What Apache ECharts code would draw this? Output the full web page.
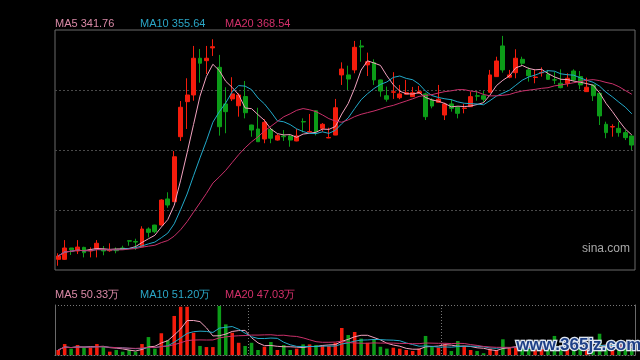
<!DOCTYPE html>
<html>
<head>
<meta charset="utf-8">
<script src="https://cdn.jsdelivr.net/npm/echarts@6/dist/echarts.min.js"></script>
<style>
html,body{margin:0;padding:0;background:#000;}
#c{width:640px;height:360px;background:#000;}
</style>
</head>
<body>
<div id="c"></div>
<script>
const open = [259.8, 259.8, 267.3, 265.3, 267.7, 265.3, 266.8, 266.0, 265.5, 266.4,
 267.3, 272.1, 271.6, 268.1, 279.8, 282.4, 282.4, 299.6, 297.8, 340.6,
 363.7, 368.1, 392.3, 390.7, 399.1, 386.3, 362.2, 365.5, 361.0, 367.1,
 348.3, 345.7, 339.1, 345.5, 338.4, 341.1, 341.1, 337.8, 350.6, 343.7,
 357.7, 346.1, 339.8, 341.7, 381.3, 381.3, 384.6, 400.4, 387.9, 389.4,
 378.0, 367.6, 369.9, 366.3, 368.6, 367.0, 369.2, 368.8, 364.8, 363.3,
 354.9, 362.2, 360.0, 359.2, 360.4, 367.6, 367.6, 369.9, 380.2, 400.4,
 379.8, 382.8, 391.6, 384.6, 379.6, 382.7, 381.7, 378.1, 375.8, 375.8,
 383.9, 380.2, 370.3, 374.7, 369.2, 348.8, 347.0, 346.1, 343.3, 341.1];
const close = [262.0, 267.3, 266.1, 267.9, 264.2, 266.0, 270.4, 265.3, 266.0, 265.5,
 266.4, 271.8, 271.2, 279.8, 277.6, 278.0, 298.9, 295.6, 327.4, 360.0,
 368.1, 392.3, 389.0, 392.3, 399.9, 347.2, 357.1, 368.8, 368.1, 356.4,
 345.0, 337.3, 350.1, 339.6, 341.3, 340.6, 338.4, 341.1, 350.3, 344.0,
 343.9, 348.8, 340.1, 359.7, 385.2, 378.6, 399.5, 399.7, 390.0, 378.0,
 370.7, 365.3, 370.2, 368.8, 369.6, 369.6, 370.3, 353.8, 360.8, 365.3,
 362.2, 359.3, 356.0, 359.5, 367.0, 367.3, 365.3, 381.3, 390.5, 384.6,
 381.3, 392.3, 389.0, 380.8, 379.9, 383.0, 378.4, 377.9, 372.9, 379.1,
 378.0, 374.7, 373.2, 367.6, 354.3, 343.3, 347.3, 343.3, 340.0, 335.1];
const high = [263.8, 272.5, 267.3, 272.5, 268.1, 267.7, 272.5, 268.6, 270.4, 267.7,
 268.8, 272.1, 273.4, 281.6, 280.9, 282.6, 299.4, 304.0, 331.2, 364.1,
 379.1, 400.4, 398.4, 400.4, 404.8, 394.5, 373.2, 379.8, 369.2, 377.3,
 348.5, 359.7, 352.1, 346.3, 342.4, 345.0, 341.7, 345.7, 352.7, 355.6,
 358.2, 349.6, 346.5, 365.5, 389.6, 387.4, 403.7, 404.3, 396.0, 391.6,
 378.2, 373.6, 383.1, 374.7, 378.0, 373.4, 374.0, 369.6, 365.9, 374.7,
 363.0, 365.3, 360.8, 362.2, 370.3, 370.9, 370.7, 384.6, 393.3, 407.0,
 384.6, 398.2, 393.3, 386.3, 384.6, 386.3, 384.6, 383.5, 385.0, 382.4,
 385.0, 383.9, 379.5, 374.9, 369.4, 350.5, 348.8, 350.5, 345.0, 341.3];
const low = [255.6, 259.4, 262.7, 263.3, 261.1, 261.1, 261.1, 262.5, 264.8, 263.8,
 266.0, 268.8, 266.0, 267.9, 274.3, 277.0, 282.2, 293.8, 297.6, 337.8,
 345.7, 364.3, 376.2, 381.9, 393.8, 341.3, 342.9, 364.1, 353.8, 352.7,
 340.6, 337.1, 336.3, 336.3, 338.0, 337.8, 334.0, 337.6, 343.5, 343.5,
 341.5, 343.9, 339.6, 341.6, 374.7, 371.4, 382.4, 390.0, 380.6, 374.7,
 367.0, 363.7, 365.5, 365.3, 368.1, 366.8, 369.1, 351.6, 359.3, 363.0,
 351.6, 357.1, 352.7, 356.0, 360.2, 364.3, 363.0, 369.7, 380.0, 382.8,
 379.1, 379.1, 387.2, 376.9, 375.8, 380.2, 378.0, 375.3, 372.5, 373.6,
 376.9, 371.9, 370.1, 364.1, 348.3, 339.6, 340.6, 340.6, 338.4, 331.85];
// volume in 万
const volume = [31.5, 69, 40, 63, 46, 46, 69, 50, 21, 31.5,
 21, 31.5, 21, 69, 113, 40, 137, 93, 246, 304,
 304, 140, 57, 50, 50, 309, 193, 140, 77, 57,
 77, 31.5, 52, 82, 31.5, 63, 31.5, 40, 67, 67,
 63, 63, 57, 77, 170, 126, 145, 103, 77, 99,
 52, 40, 46, 40, 31.5, 25, 40, 120, 52, 46,
 67, 25, 88, 57, 31.5, 25, 11, 40, 31.5, 99,
 46, 46, 40, 35, 30, 45, 40, 120, 35, 45,
 40, 50, 40, 30, 134, 60, 45, 40, 45, 40];
const days = open.map((_, i) => 'D' + (i + 1));

const priceLegend = ['MA5 341.76', 'MA10 355.64', 'MA20 368.54'];
const volLegend = ['MA5 50.33万', 'MA10 51.20万', 'MA20 47.03万'];

function ma(arr, n) {
  return arr.map((_, i) => {
    const s = Math.max(0, i - n + 1);
    let sum = 0;
    for (let k = s; k <= i; k++) sum += arr[k];
    return +(sum / (i - s + 1)).toFixed(3);
  });
}

const UP = '#f41c0c', DOWN = '#0c9c18';
const C5 = '#f2a2bf', C10 = '#22a9c9', C20 = '#c9306a';
const T5 = '#d989a6', T10 = '#2aa6c6', T20 = '#d3306a';

const kdata = open.map((o, i) => [o, close[i], low[i], high[i]]);

const chart = echarts.init(document.getElementById('c'), null, {renderer: 'canvas'});
const lineCommon = {type: 'line', symbol: 'none', smooth: false, silent: true};

chart.setOption({
  backgroundColor: '#000',
  animation: false,
  grid: [
    {left: 55, top: 30, width: 580, height: 240, show: true, borderColor: '#6a6a6a', borderWidth: 1, backgroundColor: 'transparent'},
    {left: 55, top: 305, width: 580, height: 50, show: false}
  ],
  xAxis: [
    {type: 'category', data: days, gridIndex: 0, boundaryGap: true,
     axisLine: {show: false}, axisTick: {show: false}, axisLabel: {show: false}, splitLine: {show: false}},
    {type: 'category', data: days, gridIndex: 1, boundaryGap: true,
     axisLine: {show: true, lineStyle: {color: '#777', type: [1, 2]}}, axisTick: {show: false}, axisLabel: {show: false},
     splitLine: {show: true, interval: function (i) { return i === 30 || i === 60; }, lineStyle: {color: '#777', type: [1, 2]}}}
  ],
  yAxis: [
    {type: 'value', gridIndex: 0, min: 252.8, max: 410.9, show: false, splitLine: {show: false}},
    {type: 'value', gridIndex: 0, min: 0, max: 4, interval: 1, position: 'right',
     axisLine: {show: false}, axisTick: {show: false}, axisLabel: {show: false},
     splitLine: {show: true, showMinLine: false, showMaxLine: false, lineStyle: {color: '#4a4a4a', type: [2, 2]}}},
    {type: 'value', gridIndex: 1, min: 0, max: 315, interval: 315,
     axisLine: {show: true, lineStyle: {color: '#6a6a6a'}}, axisTick: {show: false}, axisLabel: {show: false},
     splitLine: {show: true, showMinLine: false, lineStyle: {color: '#777', type: [1, 2]}}},
    {type: 'value', gridIndex: 1, min: 0, max: 315, position: 'right',
     axisLine: {show: true, lineStyle: {color: '#6a6a6a'}}, axisTick: {show: false}, axisLabel: {show: false},
     splitLine: {show: false}}
  ],
  series: [
    {type: 'candlestick', xAxisIndex: 0, yAxisIndex: 0, data: kdata, barWidth: '68%',
     itemStyle: {color: UP, color0: DOWN, borderColor: UP, borderColor0: DOWN, borderWidth: 1}},
    Object.assign({}, lineCommon, {xAxisIndex: 0, yAxisIndex: 0, data: ma(close, 5), lineStyle: {color: C5, width: 1}}),
    Object.assign({}, lineCommon, {xAxisIndex: 0, yAxisIndex: 0, data: ma(close, 10), lineStyle: {color: C10, width: 1}}),
    Object.assign({}, lineCommon, {xAxisIndex: 0, yAxisIndex: 0, data: ma(close, 20), lineStyle: {color: C20, width: 1}}),
    {type: 'bar', xAxisIndex: 1, yAxisIndex: 2, data: volume, barWidth: '55%',
     itemStyle: {color: function (p) { return close[p.dataIndex] >= open[p.dataIndex] ? UP : DOWN; }}},
    Object.assign({}, lineCommon, {xAxisIndex: 1, yAxisIndex: 2, data: ma(volume, 5), lineStyle: {color: C5, width: 1}}),
    Object.assign({}, lineCommon, {xAxisIndex: 1, yAxisIndex: 2, data: ma(volume, 10), lineStyle: {color: C10, width: 1}}),
    Object.assign({}, lineCommon, {xAxisIndex: 1, yAxisIndex: 2, data: ma(volume, 20), lineStyle: {color: C20, width: 1}})
  ],
  graphic: [
    {type: 'text', left: 55, top: 18, style: {text: priceLegend[0], fill: T5, font: '11px "Liberation Sans", Arial, sans-serif'}},
    {type: 'text', left: 140, top: 18, style: {text: priceLegend[1], fill: T10, font: '11px "Liberation Sans", Arial, sans-serif'}},
    {type: 'text', left: 225, top: 18, style: {text: priceLegend[2], fill: T20, font: '11px "Liberation Sans", Arial, sans-serif'}},
    {type: 'text', left: 55, top: 289, style: {text: volLegend[0], fill: T5, font: '11px "Liberation Sans", Arial, sans-serif'}},
    {type: 'text', left: 140, top: 289, style: {text: volLegend[1], fill: T10, font: '11px "Liberation Sans", Arial, sans-serif'}},
    {type: 'text', left: 225, top: 289, style: {text: volLegend[2], fill: T20, font: '11px "Liberation Sans", Arial, sans-serif'}},
    {type: 'text', left: 582, top: 243, style: {text: 'sina.com', fill: '#a8a8a8', font: '12px "Liberation Sans", Arial, sans-serif'}},
    {type: 'text', left: 515, top: 336, z: 100, style: {text: 'www.365jz.com', fill: '#1d3f86', stroke: '#dfe6f0', lineWidth: 2.5, font: 'bold 17px "Liberation Sans", Arial, sans-serif'}}
  ]
});
</script>
</body>
</html>
